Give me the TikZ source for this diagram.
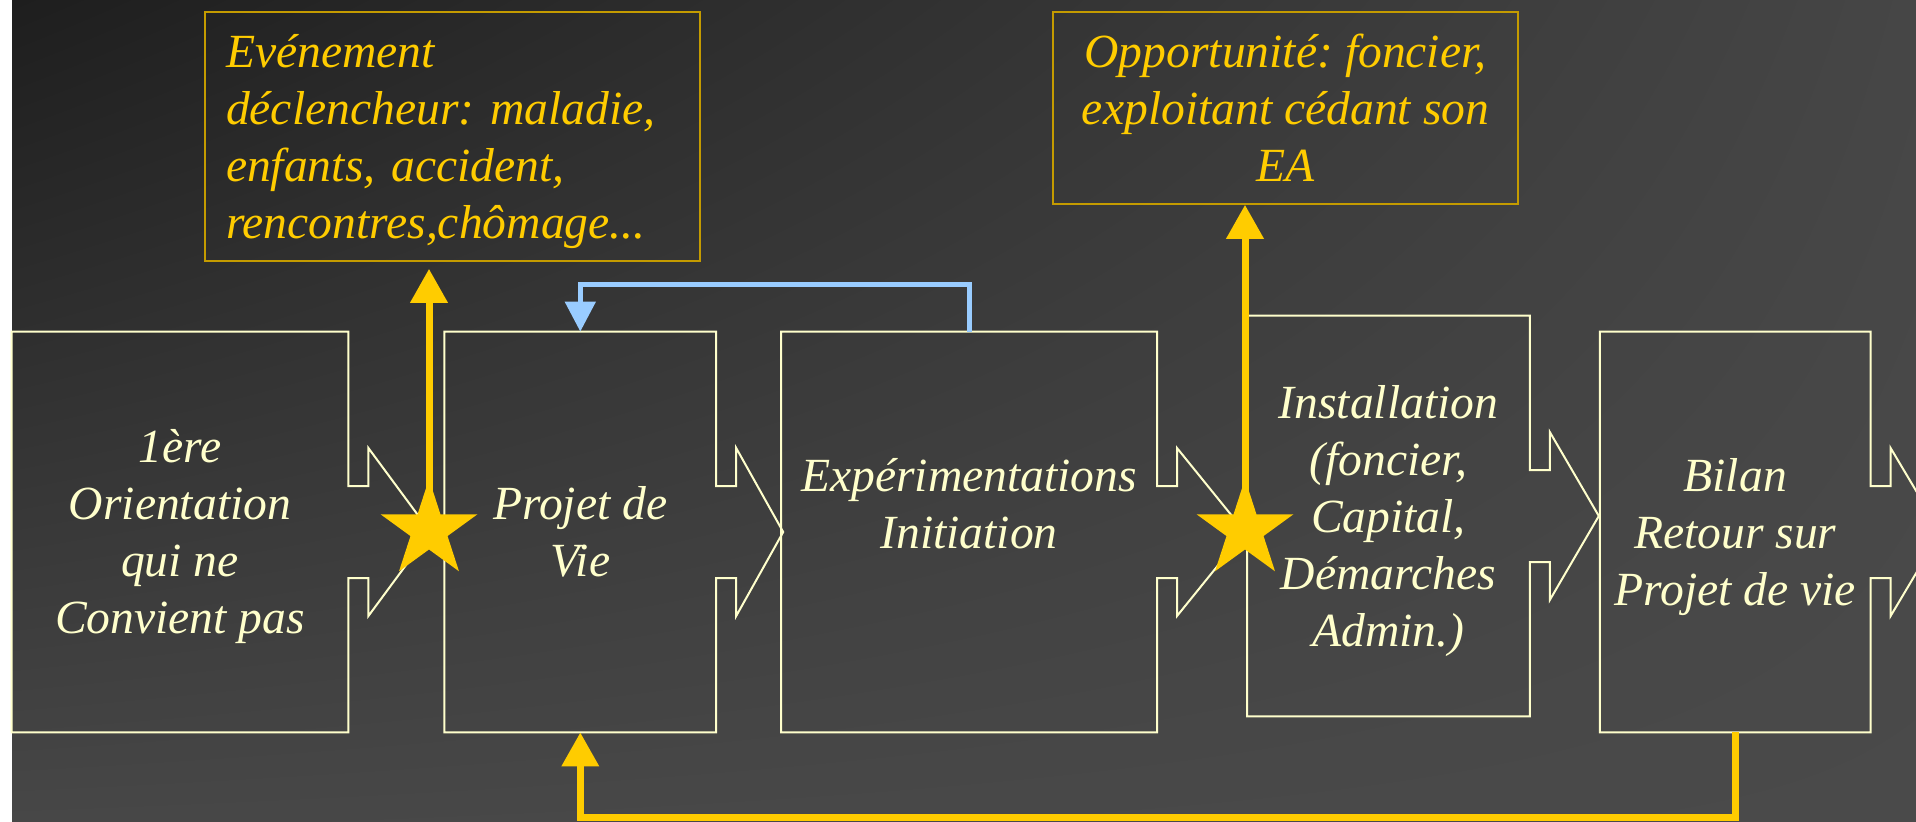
\documentclass[tikz,border=0pt]{standalone}
\usepackage{fontspec}
\setmainfont{Liberation Serif}
\frenchspacing
\usetikzlibrary{positioning,calc,shapes.geometric,arrows.meta,shadings}
\definecolor{cream}{HTML}{FFFFCC}
\definecolor{gold}{HTML}{FFCC00}
\definecolor{goldedge}{HTML}{C49B00}
\definecolor{skyline}{HTML}{99CCFF}
\definecolor{bgul}{HTML}{1E1E1E}
\definecolor{bgur}{HTML}{464646}
\definecolor{bgll}{HTML}{474747}
\definecolor{bglr}{HTML}{4A4A4A}
\newcommand\pptstrut{\rule[-0.216em]{0pt}{1.107em}}
\tikzstyle{stage} = [minimum height=200pt, inner sep=2pt, align=center, text=cream, font=\itshape\fontsize{23.8pt}{28.5pt}\selectfont, execute at end node=\pptstrut]
\tikzstyle{note} = [draw=goldedge, line width=0.8pt, inner ysep=2pt, text=gold, font=\itshape\fontsize{23.8pt}{28.5pt}\selectfont, execute at end node=\pptstrut]
\tikzstyle{stageline} = [cream, line width=1pt, line join=miter]
\tikzstyle{goldarrow} = [gold, line width=3.5pt, -{Triangle[length=17pt,width=18pt]}]
\tikzstyle{bluearrow} = [skyline, line width=2.5pt, -{Triangle[length=15pt,width=15pt]}]
\tikzstyle{spark} = [star, star points=5, star point ratio=2.618, minimum size=51pt, inner sep=0pt, fill=gold]

\begin{document}
\begin{tikzpicture}[x=0.5pt, y=-0.5pt]
	\useasboundingbox (0,0) rectangle (1916,821);
	\clip (0,0) rectangle (1916,821);
	\fill[white] (0,0) rectangle (12,821);
	\shade[upper left=bgul, upper right=bgur, lower left=bgll, lower right=bglr] (12,0) rectangle (1916,821);

	% les etapes
	\node[stage, minimum width=168pt] (b1) at (180,532) {\pptstrut 1ère\\Orientation\\qui ne\\Convient pas};
	\node[stage, minimum width=135.5pt, right=48pt of b1] (b2) {\pptstrut Projet de\\Vie};
	\node[stage, minimum width=187.5pt, right=32.5pt of b2] (b3) {\pptstrut Expérimentations\\Initiation\\~};
	\node[stage, minimum width=141pt, right=45pt of b3, yshift=8pt] (b4) {\pptstrut Installation\\(foncier,\\Capital,\\Démarches\\Admin.)};
	\node[stage, minimum width=135pt, right=35pt of b4, yshift=-8pt] (b5) {\pptstrut Bilan\\Retour sur\\Projet de vie};

	\foreach \n/\d in {b1/62,b2/47,b3/68,b4/49,b5/50}
		\draw[stageline] (\n.north west) -- (\n.north east) -- ($(\n.east)+(0,-46)$) -- ($(\n.east)+(20,-46)$) -- ($(\n.east)+(20,-84)$) -- ($(\n.east)+(20+\d,0)$) -- ($(\n.east)+(20,84)$) -- ($(\n.east)+(20,46)$) -- ($(\n.east)+(0,46)$) -- (\n.south east) -- (\n.south west) -- cycle;

	% les evenements
	\node[note, minimum width=247.5pt, minimum height=124.5pt, text width=226.5pt, inner xsep=10.5pt, align=left] (evt) at (452.5,136.5) {\pptstrut Evénement\\déclencheur: maladie,\\enfants, accident,\\rencontres,chômage...};
	\node[note, minimum width=232.5pt, minimum height=96pt, align=center] (opp) at (1285.5,108) {\pptstrut Opportunité: foncier,\\exploitant cédant son\\EA};

	\node[spark] (s1) at (429,530) {};
	\node[spark] (s2) at (1245,530) {};

	\draw[goldarrow, shorten >=3.5pt] (s1.center) -- (s1.center |- evt.south);
	\draw[goldarrow] (s2.center) -- (s2.center |- opp.south);
	\draw[bluearrow] (b3.north) -- ++(0,-47) -| (b2.north);
	\draw[goldarrow] (b5.south) -- ++(0,85) -| (b2.south);
\end{tikzpicture}
\end{document}
